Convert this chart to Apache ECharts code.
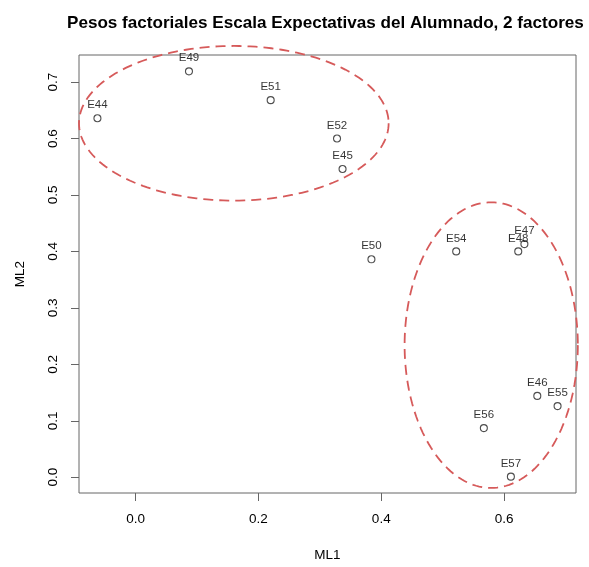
<!DOCTYPE html>
<html>
<head>
<meta charset="utf-8">
<script src="https://cdn.jsdelivr.net/npm/echarts@6/dist/echarts.min.js"></script>
<style>
  html, body { margin: 0; padding: 0; background: #fff; }
  #chart { width: 589px; height: 567px; }
</style>
</head>
<body>
<div id="chart"></div>
<script>
// Factor loadings (two-factor solution) for each item
const items = ['E44', 'E49', 'E51', 'E52', 'E45', 'E50', 'E54', 'E48', 'E47', 'E46', 'E55', 'E56', 'E57'];
const ml1 = [-0.062, 0.087, 0.220, 0.328, 0.337, 0.384, 0.522, 0.623, 0.633, 0.654, 0.687, 0.567, 0.611];
const ml2 = [0.636, 0.719, 0.668, 0.600, 0.546, 0.386, 0.400, 0.400, 0.413, 0.144, 0.126, 0.087, 0.001];

// Tick labels
const xTicks = [0.0, 0.2, 0.4, 0.6];
const yTicks = [0.0, 0.1, 0.2, 0.3, 0.4, 0.5, 0.6, 0.7];

// Cluster outlines: centre (ML1, ML2) and semi-axes (ML1, ML2)
const clusterCenterX = [0.160, 0.579];
const clusterCenterY = [0.627, 0.234];
const clusterRadiusX = [0.252, 0.141];
const clusterRadiusY = [0.137, 0.253];

const points = items.map((n, i) => [ml1[i], ml2[i], n]);
const clusters = clusterCenterX.map((cx, i) => [cx, clusterCenterY[i], clusterRadiusX[i], clusterRadiusY[i]]);

const FONT = '"Liberation Sans", Arial, Helvetica, sans-serif';
const AXIS_COLOR = '#666';
const TEXT_COLOR = '#000';

const chart = echarts.init(document.getElementById('chart'), null, { renderer: 'canvas' });

chart.setOption({
  backgroundColor: '#fff',
  animation: false,
  title: {
    text: 'Pesos factoriales Escala Expectativas del Alumnado, 2 factores',
    left: 62, top: 10,
    textStyle: { fontFamily: FONT, fontWeight: 'bold', fontSize: 17.1, color: '#000' }
  },
  grid: {
    left: 79, right: 13, top: 55, bottom: 67,
    show: true, borderColor: AXIS_COLOR, borderWidth: 1, backgroundColor: 'transparent'
  },
  xAxis: {
    type: 'value', min: -0.092, max: 0.717,
    name: 'ML1', nameLocation: 'middle', nameGap: 55,
    nameTextStyle: { fontFamily: FONT, fontSize: 13.5, color: TEXT_COLOR },
    axisLine: { show: false, onZero: false },
    splitLine: { show: false },
    axisTick: { show: true, inside: false, length: 8, customValues: xTicks, lineStyle: { color: AXIS_COLOR } },
    axisLabel: {
      customValues: xTicks, margin: 19,
      formatter: v => v.toFixed(1),
      fontFamily: FONT, fontSize: 13.5, color: TEXT_COLOR
    }
  },
  yAxis: {
    type: 'value', min: -0.028, max: 0.748,
    name: 'ML2', nameLocation: 'middle', nameGap: 52, nameRotate: 90,
    nameTextStyle: { fontFamily: FONT, fontSize: 13.5, color: TEXT_COLOR },
    axisLine: { show: false, onZero: false },
    splitLine: { show: false },
    axisTick: { show: true, inside: false, length: 8, customValues: yTicks, lineStyle: { color: AXIS_COLOR } },
    axisLabel: {
      customValues: yTicks, margin: 19, rotate: 90,
      formatter: v => v.toFixed(1),
      fontFamily: FONT, fontSize: 13.5, color: TEXT_COLOR
    }
  },
  series: [
    {
      type: 'scatter',
      data: points,
      symbol: 'circle',
      symbolSize: 7,
      itemStyle: { color: 'rgba(0,0,0,0)', borderColor: '#222', borderWidth: 1.1 },
      label: {
        show: true, position: 'top', distance: 3,
        formatter: p => p.data[2],
        fontFamily: FONT, fontSize: 11.5, color: TEXT_COLOR
      },
      emphasis: { disabled: true },
      z: 3
    },
    {
      type: 'custom',
      clip: false,
      silent: true,
      data: clusters,
      encode: { x: 0, y: 1 },
      renderItem: function (params, api) {
        const c = api.coord([api.value(0), api.value(1)]);
        const s = api.size([api.value(2), api.value(3)]);
        const pts = [];
        const n = 180;
        for (let k = 0; k < n; k++) {
          const t = (k / n) * Math.PI * 2;
          pts.push([c[0] + s[0] * Math.cos(t), c[1] + s[1] * Math.sin(t)]);
        }
        return {
          type: 'polygon',
          shape: { points: pts },
          style: { fill: 'none', stroke: '#d65a5a', lineWidth: 1.8, lineDash: [10, 6] }
        };
      },
      z: 2
    }
  ]
});
</script>
</body>
</html>
